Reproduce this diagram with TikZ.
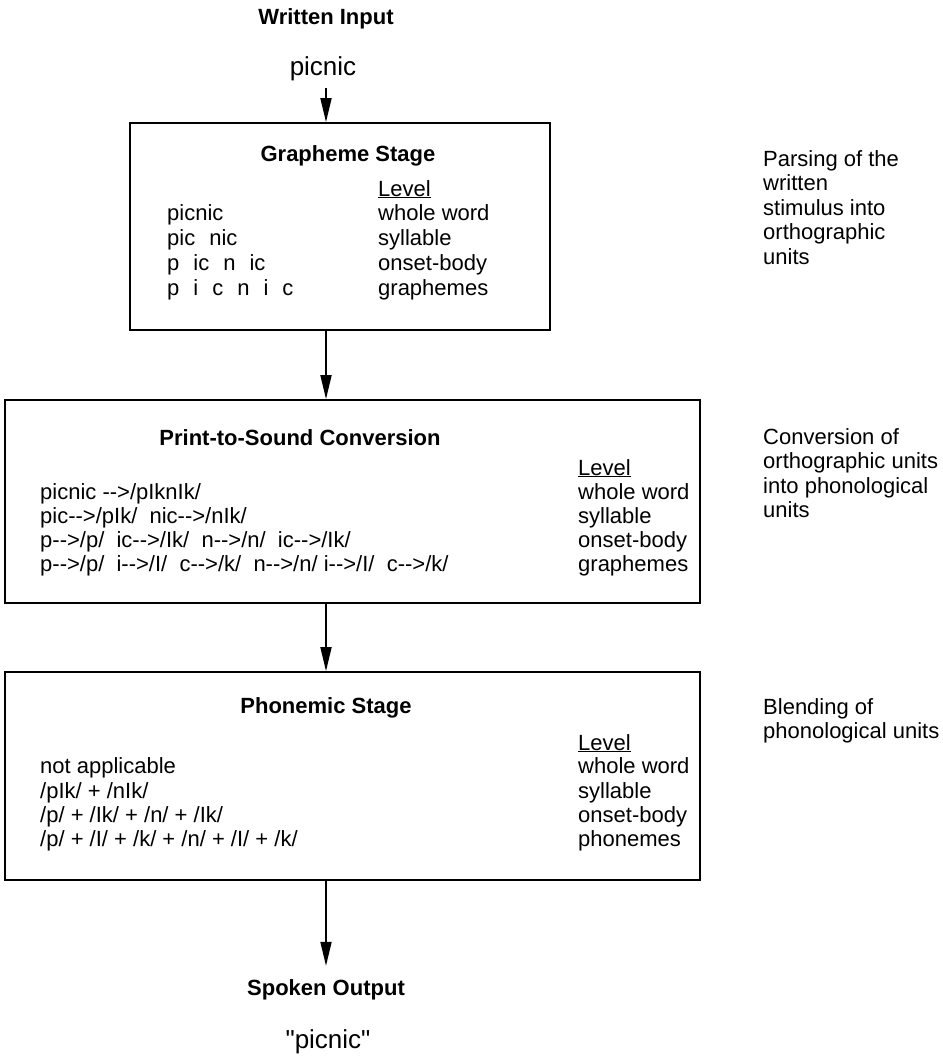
\documentclass[tikz,border=0pt]{standalone}
\usepackage{fontspec}
\setmainfont{Liberation Sans}
\usetikzlibrary{arrows.meta,positioning}
\tikzset{stagebox/.style={draw,line width=1.8pt,inner sep=0pt},
  txt/.style={inner sep=0pt,anchor=base west,font=\fontsize{22}{24.5}\selectfont},
  ttl/.style={inner sep=0pt,anchor=base,font=\fontsize{22}{24.5}\selectfont\bfseries},
  plain/.style={inner sep=0pt,anchor=base,font=\fontsize{26}{28}\selectfont},
  note/.style={inner sep=0pt,anchor=north west,align=left,font=\fontsize{22}{24.5}\selectfont},
  arr/.style={line width=1.8pt,-{Triangle[length=24pt,width=11pt]}}}
\newcommand\maps{-\kern0pt-\kern0pt>}
\newcommand\gap{\hspace{14pt}}
\font\quotefont="Liberation Sans:" at 26pt

\begin{document}
\begin{tikzpicture}[x=1pt,y=-1pt]
          \useasboundingbox (0,0) rectangle (942,1062);
          \coordinate (spine) at (326,0);

          % input
          \node (winput) [ttl] at (326,25) {Written Input};
          \node (inword) [plain] at (323,76) {picnic};

          % the three stages
          \node (gstage) [stagebox,minimum width=420pt,minimum height=207pt] at (340,226.5) {};
          \node (pconv) [stagebox,minimum width=695pt,minimum height=203pt] at (352.5,501.5) {};
          \node (phstage) [stagebox,minimum width=695pt,minimum height=208pt] at (352.5,776) {};

          % grapheme stage
          \node (g-title) [ttl] at (348,161) {Grapheme Stage};
          \node (g-level) [txt] at (378,196) {\underline{Level}};
          \foreach \w [count=\i] in {picnic, pic\gap nic, p\gap ic\gap n\gap ic, p\gap i\gap c\gap n\gap i\gap c}
            \node (g-w\i) [txt] at (167,195+25*\i) {\w};
          \foreach \l [count=\i] in {whole word, syllable, onset-body, graphemes}
            \node (g-l\i) [txt] at (378,195+25*\i) {\l};

          % print-to-sound conversion
          \node (p-title) [ttl] at (300,445) {Print-to-Sound Conversion};
          \node (p-level) [txt] at (578,475) {\underline{Level}};
          \foreach \w [count=\i] in {picnic \maps/pIknIk/,
            pic\maps/pIk/\ \ nic\maps/nIk/,
            p\maps/p/\ \ ic\maps/Ik/\ \ n\maps/n/\ \ ic\maps/Ik/,
            p\maps/p/\ \ i\maps/I/\ \ c\maps/k/\ \ n\maps/n/ i\maps/I/\ \ c\maps/k/}
            \node (p-w\i) [txt] at (40,475+24.2*\i) {\w};
          \foreach \l [count=\i] in {whole word, syllable, onset-body, graphemes}
            \node (p-l\i) [txt] at (578,475+24.2*\i) {\l};

          % phonemic stage
          \node (h-title) [ttl] at (326,713) {Phonemic Stage};
          \node (h-level) [txt] at (578,750) {\underline{Level}};
          \foreach \w [count=\i] in {not applicable, /pIk/ + /nIk/, /p/ + /Ik/ + /n/ + /Ik/,
            /p/ + /I/ + /k/ + /n/ + /I/ + /k/}
            \node (h-w\i) [txt] at (40,749.5+24.3*\i) {\w};
          \foreach \l [count=\i] in {whole word, syllable, onset-body, phonemes}
            \node (h-l\i) [txt] at (578,749.5+24.3*\i) {\l};

          % output
          \node (soutput) [ttl] at (326,995) {Spoken Output};
          \node (outword) [plain] at (328,1048) {{\quotefont"}picnic{\quotefont"}};

          % notes on the right
          \node (g-note) [note] at (763,150) {Parsing of the\\written\\stimulus into\\orthographic\\units};
          \node (p-note) [note] at (763,428) {Conversion of\\orthographic units\\into phonological\\units};
          \node (h-note) [note] at (763,698) {Blending of\\phonological units};

          % arrows
          \draw[arr] ([yshift=-12pt]spine |- inword.base) -- (spine |- gstage.north);
          \draw[arr] (spine |- gstage.south) -- (spine |- pconv.north);
          \draw[arr] (spine |- pconv.south) -- (spine |- phstage.north);
          \draw[arr,shorten >=13pt] (spine |- phstage.south) -- (spine |- soutput.north);
\end{tikzpicture}
\end{document}
